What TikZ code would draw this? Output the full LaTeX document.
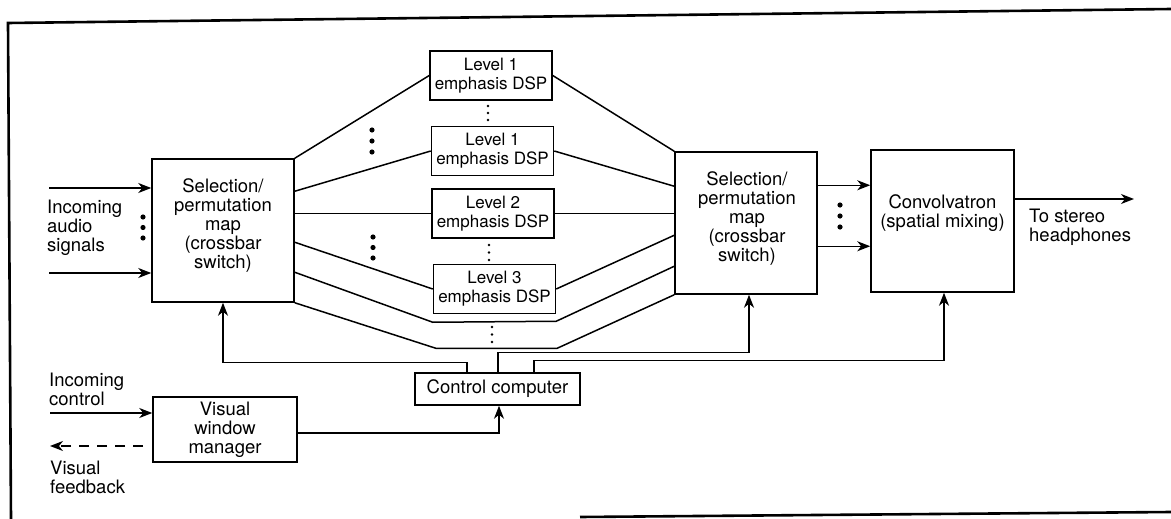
\documentclass[tikz,border=0pt]{standalone}
\usepackage{fontspec}
\setmainfont{TeX Gyre Heros}
\usetikzlibrary{arrows.meta,calc}
\begin{document}
\begin{tikzpicture}[x=1pt,y=-1pt,
  box/.style={draw,line width=1.5pt,inner sep=0pt},
  txt/.style={align=center,font=\fontsize{18.5}{19}\selectfont,inner sep=0pt},
  dsp/.style={draw,line width=1.5pt,inner sep=0pt,align=center,font=\fontsize{17}{19}\selectfont,minimum width=122pt,minimum height=49pt},
  lbl/.style={align=left,anchor=west,font=\fontsize{18.5}{19}\selectfont,inner sep=0pt},
  conn/.style={line width=1.5pt},
  arr/.style={line width=1.5pt,-{Stealth[length=13pt,width=10pt,inset=4pt]}},
  framel/.style={line width=2.6pt}
]
\useasboundingbox (0,0) rectangle (1171,519);
% frame
\draw[framel] (1171,9) -- (8,23) -- (11,519);
\draw[framel] (580,517) -- (1171,512);

% boxes
\node[box,minimum width=142pt,minimum height=143pt] (lsw) at (223,230.5) {};
\node[txt] (lswt) at (223,226) {Selection/\\permutation\\map\\(crossbar\\switch)};
\node[box,minimum width=142pt,minimum height=142pt] (rsw) at (746,223) {};
\node[txt] (rswt) at (747,218.5) {Selection/\\permutation\\map\\(crossbar\\switch)};
\node[box,minimum width=143pt,minimum height=142pt] (conv) at (942.5,221) {};
\node[txt] (convt) at (942.5,213) {Convolvatron\\(spatial mixing)};

\node[dsp] (l1a) at (491,75.5) {Level 1\\emphasis DSP};
\node[dsp] (l1b) at (492.5,151) {Level 1\\emphasis DSP};
\node[dsp] (l2) at (493,213.5) {Level 2\\emphasis DSP};
\node[dsp] (l3) at (494.5,289) {Level 3\\emphasis DSP};

\node[box,txt,minimum width=144pt,minimum height=65pt] (vis) at (225,429.5) {Visual\\window\\manager};
\node[box,txt,minimum width=165pt,minimum height=32pt] (ctrl) at (497.5,389) {Control computer};

% labels
\node[lbl] (inaud) at (47,227.5) {Incoming\\audio\\signals};
\node[lbl] (inctl) at (49,389) {Incoming\\control};
\node[lbl] (vfb) at (50,477.5) {Visual\\feedback};
\node[lbl] (tostereo) at (1029,227.5) {To stereo\\headphones};

% input arrows
\coordinate (in1) at (49,188);
\coordinate (in2) at (49,273);
\coordinate (in3) at (50,413);
\coordinate (fbs) at (143,446);
\coordinate (fbe) at (50,446);
\draw[arr] (in1) -- (in1 -| lsw.west);
\draw[arr] (in2) -- (in2 -| lsw.west);
\draw[arr] (in3) -- (in3 -| vis.west);
\draw[arr,dash pattern=on 10pt off 8pt] (fbs) -- (fbe);

% left switch to DSPs
\draw[conn] (lsw.north east) -- (l1a.west);
\draw[conn] ([yshift=-33pt]lsw.north east) -- (l1b.west);
\draw[conn] (l2.west -| lsw.east) -- (l2.west);
\draw[conn] ([yshift=-84pt]lsw.north east) -- (l3.west);
\draw[conn] ([yshift=-114pt]lsw.north east) -- ([yshift=-8pt]l3.south west) -- ([yshift=-7pt]l3.south east) -- ([yshift=-115pt]rsw.north west);
\draw[conn] (lsw.south east) -- ([xshift=3pt,yshift=-34pt]l3.south west) -- ([xshift=1pt,yshift=-34pt]l3.south east) -- (rsw.south west);

% DSPs to right switch
\draw[conn] (l1a.east) -- (rsw.north west);
\draw[conn] (l1b.east) -- ([yshift=-35pt]rsw.north west);
\draw[conn] (l2.east) -- (l2.east -| rsw.west);
\draw[conn] (l3.east) -- ([yshift=-84pt]rsw.north west);

% right switch to convolvatron
\coordinate (o1) at ([yshift=-34pt]rsw.north east);
\coordinate (o2) at ([yshift=-95pt]rsw.north east);
\draw[arr] (o1) -- (o1 -| conv.west);
\draw[arr] (o2) -- (o2 -| conv.west);
\coordinate (out) at (1134,199);
\draw[arr] (out -| conv.east) -- (out);

% control lines
\draw[arr] ([xshift=-30.5pt]ctrl.north) -- ++(0,-10) -| (lsw.south);
\draw[arr] ([xshift=0.5pt]ctrl.north) -- ++(0,-20) -| ([xshift=3pt]rsw.south);
\draw[arr] ([xshift=36.5pt]ctrl.north) -- ++(0,-12) -| ([xshift=1.5pt]conv.south);
\draw[arr] ([yshift=-3.5pt]vis.east) -| ([xshift=1.5pt]ctrl.south);

% big dots
\foreach \x/\y in {143/217,143/227.5,143/238, 372/130,372/141,372/152, 373/237,373/247.5,373/258, 840/205,840/216,840/227}
  \fill (\x,\y) circle (2.6pt);
% small dots
\foreach \x/\y in {488/106,488/113,488/120, 489/245,489/252.5,489/260, 492/327,492/334.5,492/342}
  \fill (\x,\y) circle (1.3pt);
\end{tikzpicture}
\end{document}
